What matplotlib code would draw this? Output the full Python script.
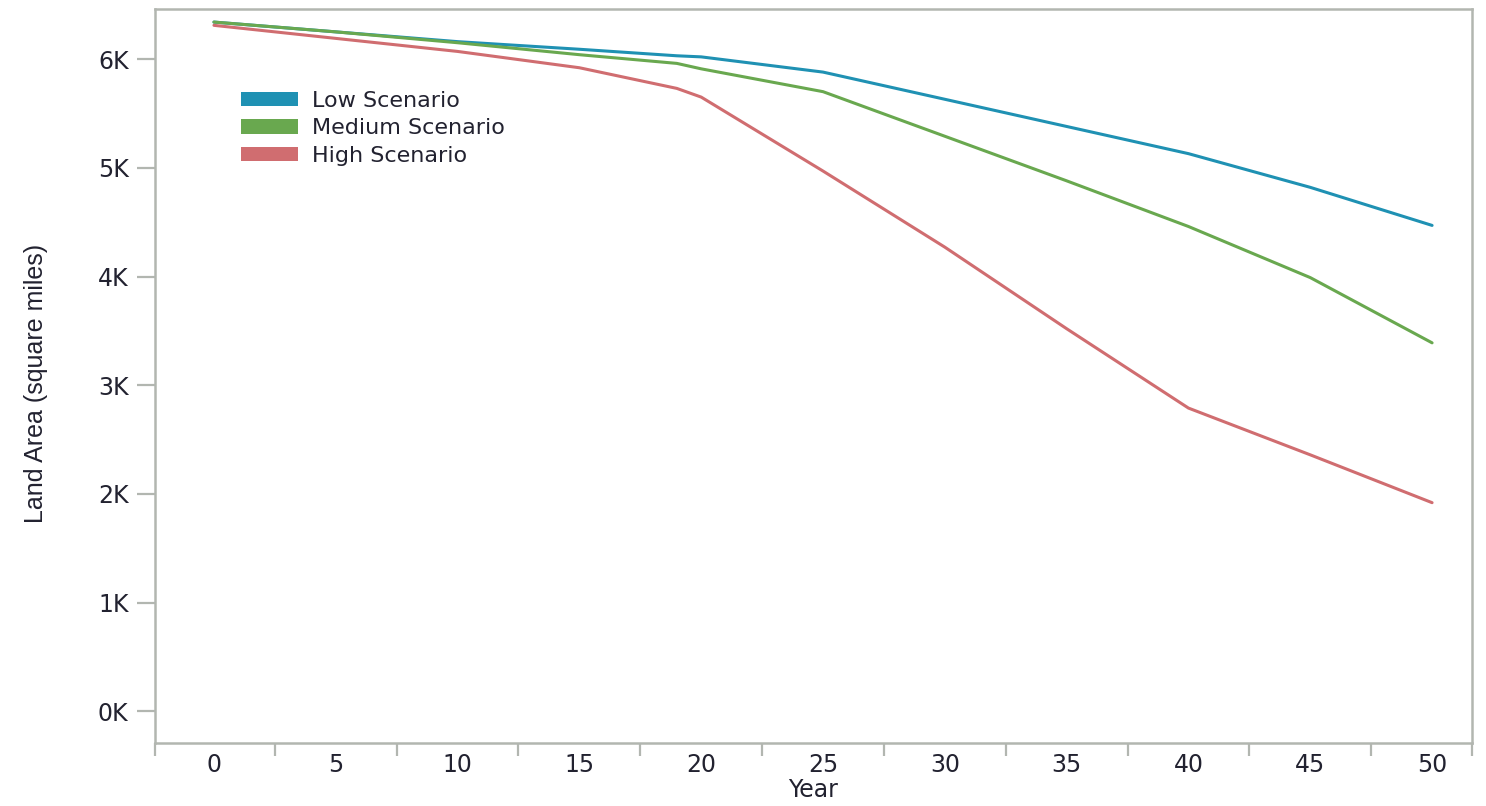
import matplotlib
matplotlib.use("Agg")
import matplotlib.pyplot as plt
from matplotlib.patches import Patch
from matplotlib.ticker import FuncFormatter

# data (thousand square miles)
years = [0, 5, 10, 15, 19, 20, 25, 30, 35, 40, 45, 50]
low = [6.34, 6.25, 6.16, 6.09, 6.03, 6.02, 5.88, 5.63, 5.38, 5.13, 4.82, 4.47]
medium = [6.34, 6.25, 6.15, 6.04, 5.96, 5.91, 5.70, 5.29, 4.88, 4.46, 3.99, 3.39]
high = [6.31, 6.19, 6.07, 5.92, 5.73, 5.65, 4.97, 4.27, 3.52, 2.79, 2.36, 1.92]

series_names = ["Low Scenario", "Medium Scenario", "High Scenario"]
colors = ["#1f91b3", "#69a84f", "#d06d70"]

x_ticks = [0, 5, 10, 15, 20, 25, 30, 35, 40, 45, 50]
y_ticks = [0, 1, 2, 3, 4, 5, 6]

spine_col = "#b2b6b0"
text_col = "#222230"
wide_font = ["DejaVu Sans"]

fig = plt.figure(figsize=(14.86, 8.06), dpi=100)
ax = fig.add_axes([0.1043, 0.0782, 0.8863, 0.9106])

for vals, c in zip([low, medium, high], colors):
    ax.plot(years, vals, color=c, lw=2.2, solid_capstyle="round")

ax.set_xlim(-2.42, 51.64)
ax.set_ylim(-0.29, 6.46)

# labels sit at the years, tick marks sit between them
ax.set_xticks(x_ticks)
ax.set_xticklabels([str(v) for v in x_ticks], family=wide_font, fontsize=17, color=text_col)
ax.tick_params(axis="x", which="major", length=0, pad=7)
ax.set_xticks([-2.42] + [v + 2.5 for v in x_ticks[:-1]] + [51.64], minor=True)
ax.tick_params(axis="x", which="minor", length=9, width=1.6, color=spine_col)

ax.set_yticks(y_ticks)
ax.yaxis.set_major_formatter(FuncFormatter(lambda v, p: "%dK" % v))
for lab in ax.get_yticklabels():
    lab.set_family(wide_font)
ax.tick_params(axis="y", length=13, width=1.6, color=spine_col, labelsize=17,
               labelcolor=text_col, pad=6)

for s in ax.spines.values():
    s.set_color(spine_col)
    s.set_linewidth(1.8)

ax.set_xlabel("Year", family=wide_font, fontsize=17, color=text_col, labelpad=1)
ax.set_ylabel("Land Area (square miles)", family=["Liberation Sans", "DejaVu Sans"],
              fontsize=18, color=text_col)
ax.yaxis.set_label_coords(-0.081, 0.49)

handles = [Patch(facecolor=c, edgecolor="none") for c in colors]
ax.legend(handles, series_names, loc="upper left", bbox_to_anchor=(0.0565, 0.904),
          frameon=False, prop={"family": wide_font, "size": 16}, handlelength=2.6,
          handleheight=0.6, handletextpad=0.6, labelspacing=0.35, borderpad=0,
          labelcolor=text_col)

fig.savefig("out.png", dpi=100)
